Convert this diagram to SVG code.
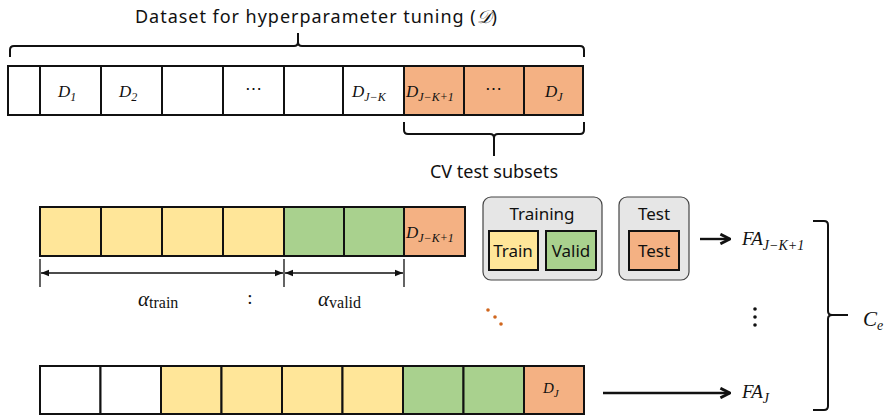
<svg xmlns="http://www.w3.org/2000/svg" width="884" height="420" viewBox="0 0 884 420">
<style>
.lbl{font-family:"Noto Sans","Liberation Sans",sans-serif;font-size:17px;fill:#111;text-anchor:middle}
.m{font-family:"Liberation Serif","DejaVu Serif",serif;font-style:italic;font-size:17px;fill:#111}
.s{font-size:12px}
.c{stroke:#111;stroke-width:2}
.w{fill:#fff}.y{fill:#FFE699}.g{fill:#A9D18E}.o{fill:#F4B183}
.br{fill:none;stroke:#111;stroke-width:2}
.ln{stroke:#111;stroke-width:1.3;fill:none}
.gb{fill:#e6e6e6;stroke:#444;stroke-width:1.2}
</style>
<defs>
<marker id="ah" viewBox="0 0 10 10" refX="10" refY="5" markerWidth="8" markerHeight="8" orient="auto-start-reverse" markerUnits="userSpaceOnUse"><path d="M0,1 L10,5 L0,9 Z" fill="#111"/></marker>
<marker id="bh" viewBox="0 0 10 10" refX="9" refY="5" markerWidth="12" markerHeight="12" orient="auto" markerUnits="userSpaceOnUse"><path d="M1,1 L9,5 L1,9" fill="none" stroke="#111" stroke-width="2.4"/></marker>
</defs>

<text class="lbl" x="316" y="23" style="font-size:18px" textLength="362" lengthAdjust="spacing">Dataset for hyperparameter tuning (<tspan font-family="DejaVu Serif,serif" font-style="italic">𝒟</tspan>)</text>

<g id="row1">
<rect class="c w" x="8" y="66" width="32" height="49"/>
<rect class="c w" x="40" y="66" width="61" height="49"/>
<rect class="c w" x="101" y="66" width="61" height="49"/>
<rect class="c w" x="162" y="66" width="61" height="49"/>
<rect class="c w" x="223" y="66" width="61" height="49"/>
<rect class="c w" x="284" y="66" width="59" height="49"/>
<rect class="c w" x="343" y="66" width="61" height="49"/>
<rect class="c o" x="404" y="66" width="60" height="49"/>
<rect class="c o" x="464" y="66" width="60" height="49"/>
<rect class="c o" x="524" y="66" width="59" height="49"/>
<text class="m" x="58" y="97">D<tspan class="s" dy="4">1</tspan></text>
<text class="m" x="119" y="97">D<tspan class="s" dy="4">2</tspan></text>
<text class="m" x="245" y="94" style="font-style:normal">⋯</text>
<text class="m" x="352" y="97">D<tspan class="s" dy="4">J−K</tspan></text>
<text class="m" x="406" y="97">D<tspan class="s" dy="4">J−K+1</tspan></text>
<text class="m" x="485" y="94" style="font-style:normal">⋯</text>
<text class="m" x="545" y="97">D<tspan class="s" dy="4">J</tspan></text>
</g>

<g id="braces">
<path class="br" d="M10,57 V50 Q10,46 14,46 H294 Q298,46 298,42 V33 M298,42 Q298,46 302,46 H580 Q584,46 584,50 V57"/>
<path class="br" d="M404,122 V130 Q404,134 408,134 H490 Q494,134 494,138 V156 M494,138 Q494,134 498,134 H580 Q584,134 584,130 V122"/>
<path class="br" d="M813,221 H824 Q828,221 828,225 V311 Q828,315 832,315 H848 M832,315 Q828,315 828,319 V406 Q828,410 824,410 H813"/>
</g>
<text class="lbl" x="494" y="178" style="font-size:18px">CV test subsets</text>

<g id="row2">
<rect class="c y" x="40" y="207" width="61" height="49"/>
<rect class="c y" x="101" y="207" width="61" height="49"/>
<rect class="c y" x="162" y="207" width="61" height="49"/>
<rect class="c y" x="223" y="207" width="61" height="49"/>
<rect class="c g" x="284" y="207" width="60" height="49"/>
<rect class="c g" x="344" y="207" width="60" height="49"/>
<rect class="c o" x="404" y="207" width="61" height="49"/>
<text class="m" x="406" y="238">D<tspan class="s" dy="4">J−K+1</tspan></text>
</g>

<g id="dims">
<path class="ln" d="M40,259 V287 M284,259 V287 M404,259 V287"/>
<line class="ln" x1="41" y1="273" x2="283" y2="273" marker-start="url(#ah)" marker-end="url(#ah)"/>
<line class="ln" x1="285" y1="273" x2="403" y2="273" marker-start="url(#ah)" marker-end="url(#ah)"/>
<text class="m" x="138" y="306" style="font-size:21px">α<tspan style="font-style:normal;font-size:16px" dy="2">train</tspan></text>
<text class="m" x="250" y="304" style="font-style:normal;text-anchor:middle;font-size:19px">:</text>
<text class="m" x="318" y="306" style="font-size:21px">α<tspan style="font-style:normal;font-size:16px" dy="2">valid</tspan></text>
</g>

<g id="training">
<rect class="gb" x="483" y="197" width="119" height="83" rx="8"/>
<text class="lbl" x="542" y="220">Training</text>
<rect class="c y" x="489" y="231" width="49" height="39"/>
<text class="lbl" x="513" y="257">Train</text>
<rect class="c g" x="546" y="231" width="50" height="39"/>
<text class="lbl" x="571" y="257">Valid</text>
</g>
<g id="test">
<rect class="gb" x="619" y="197" width="70" height="83" rx="8"/>
<text class="lbl" x="654" y="220">Test</text>
<rect class="c o" x="629" y="231" width="50" height="39"/>
<text class="lbl" x="654" y="257">Test</text>
</g>

<g id="connectors">
<line x1="700" y1="239" x2="730" y2="239" stroke="#111" stroke-width="2.4" marker-end="url(#bh)"/>
<line x1="603" y1="393" x2="730" y2="393" stroke="#111" stroke-width="2.4" marker-end="url(#bh)"/>
</g>
<text class="m" x="742" y="245" style="font-size:19px">FA<tspan dy="5" style="font-size:14px">J−K+1</tspan></text>
<text class="m" x="742" y="398" style="font-size:19px">FA<tspan dy="5" style="font-size:14px">J</tspan></text>
<text class="m" x="863" y="326" style="font-size:21px">C<tspan dy="4" style="font-size:14px">e</tspan></text>

<g id="dots">
<circle cx="755" cy="309" r="1.8" fill="#111"/>
<circle cx="755" cy="317" r="1.8" fill="#111"/>
<circle cx="755" cy="325" r="1.8" fill="#111"/>
<circle cx="488" cy="310" r="1.8" fill="#D0661E"/>
<circle cx="495" cy="317" r="1.8" fill="#D0661E"/>
<circle cx="501" cy="324" r="1.8" fill="#D0661E"/>
</g>

<g id="row3">
<rect class="c w" x="40" y="366" width="60.5" height="48"/>
<rect class="c w" x="100.5" y="366" width="60.5" height="48"/>
<rect class="c y" x="161" y="366" width="60.5" height="48"/>
<rect class="c y" x="221.5" y="366" width="60.5" height="48"/>
<rect class="c y" x="282" y="366" width="60.5" height="48"/>
<rect class="c y" x="342.5" y="366" width="60.5" height="48"/>
<rect class="c g" x="403" y="366" width="60.5" height="48"/>
<rect class="c g" x="463.5" y="366" width="60.5" height="48"/>
<rect class="c o" x="524" y="366" width="60" height="48"/>
<text class="m" x="543" y="393" style="font-size:15px">D<tspan dy="4" style="font-size:11px">J</tspan></text>
</g>
</svg>
